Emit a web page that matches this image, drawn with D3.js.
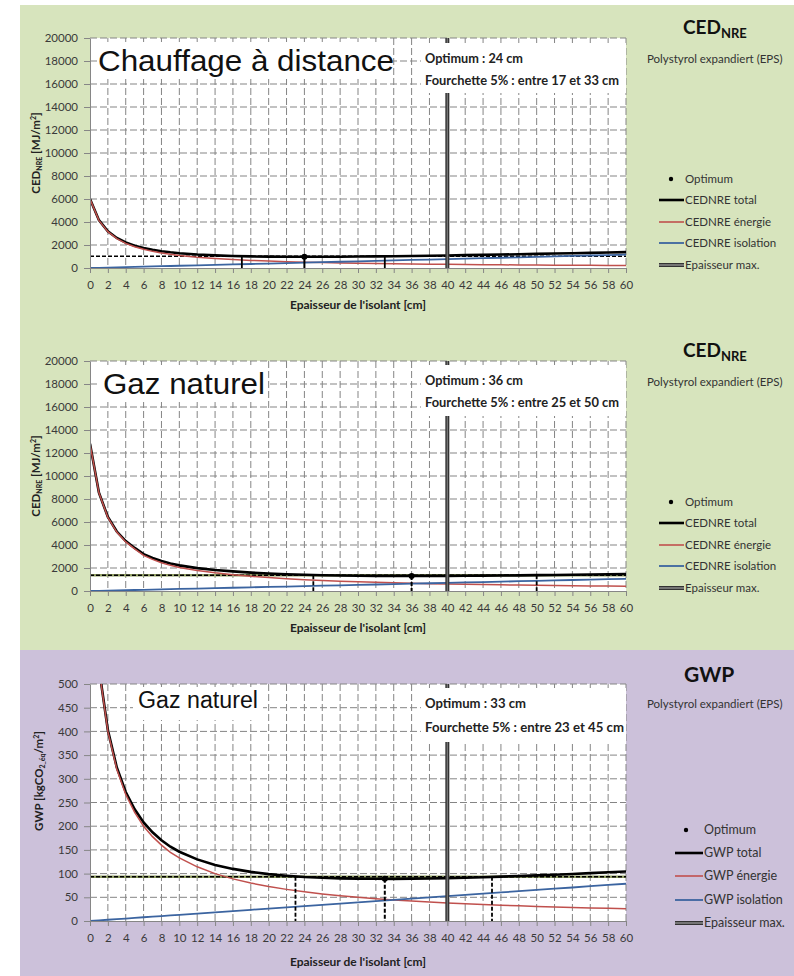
<!DOCTYPE html>
<html>
<head>
<meta charset="utf-8">
<script src="https://cdn.jsdelivr.net/npm/d3@7/dist/d3.min.js"></script>
<style>
  body { margin: 0; background: #fff; }
  svg { display: block; }
  text { font-family: Lato, "Open Sans", "Noto Sans", sans-serif; }
</style>
</head>
<body>
<svg id="chart" width="794" height="976"></svg>
<script>
// Insulation thickness [cm]
const thickness = [0,1,2,3,4,5,6,7,8,9,10,12,14,16,18,20,22,24,26,28,30,32,34,36,38,40,42,44,46,48,50,52,54,56,58,60];
const xTickValues = [0,2,4,6,8,10,12,14,16,18,20,22,24,26,28,30,32,34,36,38,40,42,44,46,48,50,52,54,56,58,60];
const cedTickValues = [0,2000,4000,6000,8000,10000,12000,14000,16000,18000,20000];
const gwpTickValues = [0,50,100,150,200,250,300,350,400,450,500];

// CED NRE, district heating [MJ/m2]
const distEnergie   = [6000,4143,3161,2556,2145,1848,1623,1447,1305,1189,1092,938,822,732,660,600,551,509,473,441,414,390,368,349,332,316,302,288,277,266,255,246,237,229,222,214];
const distIsolation = [0,19,39,58,78,97,116,136,155,175,194,233,272,310,349,388,427,466,504,543,582,621,660,698,737,776,815,854,892,931,970,1009,1048,1086,1125,1164];
const distTotal     = [6000,4162,3200,2614,2223,1945,1739,1583,1460,1364,1286,1171,1094,1042,1009,988,978,975,977,984,996,1011,1028,1047,1069,1092,1117,1142,1169,1197,1225,1255,1285,1315,1347,1378];

// CED NRE, natural gas [MJ/m2]
const gazEnergie   = [12800,8533,6400,5120,4267,3657,3100,2750,2460,2230,2050,1780,1580,1422,1280,1164,1067,985,914,853,800,753,711,674,640,610,582,557,533,512,492,474,457,441,427,413];
const gazIsolation = [0,18,35,53,71,89,106,124,142,159,177,212,248,283,319,354,389,425,460,496,531,566,602,637,673,708,743,779,814,850,885,920,956,991,1027,1062];
const gazTotal     = [12800,8551,6435,5173,4338,3746,3206,2874,2602,2389,2227,1992,1828,1705,1599,1518,1456,1410,1374,1349,1331,1319,1313,1311,1313,1318,1325,1336,1347,1362,1377,1394,1413,1432,1454,1475];

// GWP, natural gas [kgCO2-eq/m2]
const gwpEnergie   = [800,533,400,320,267,229,200,178,160,145,133,114.3,100,88.9,80,72.7,66.7,61.5,57.1,53.3,50,47.1,44.4,42.1,40,38.1,36.4,34.8,33.3,32,30.8,29.6,28.6,27.6,26.7,25.8];
const gwpIsolation = [0,1.3,2.6,3.9,5.2,6.6,7.9,9.2,10.5,11.8,13.1,15.7,18.3,21,23.6,26.2,28.8,31.4,34.1,36.7,39.3,41.9,44.5,47.2,49.8,52.4,55,57.6,60.3,62.9,65.5,68.1,70.7,73.4,76,78.6];
const gwpTotal     = [800,534.3,402.6,323.9,272.2,235.6,207.9,187.2,170.5,156.8,146.1,130,118.3,109.9,103.6,98.9,95.5,92.9,91.2,90,89.3,89,88.9,89.3,89.8,90.5,91.4,92.4,93.6,94.9,96.3,97.7,99.3,101,102.7,104.4];

// Optimum, 5 % band and maximum thickness per panel
const optimumThickness = [24, 36, 33];
const optimumValue     = [975, 1311, 89.0];
const bandLow          = [17, 25, 23];
const bandHigh         = [33, 50, 45];
const bandThreshold    = [1024, 1377, 93.4];
const maxThickness     = 40;

const svg = d3.select("#chart");

// Backgrounds
svg.append("rect").attr("x", 20).attr("y", 5).attr("width", 774).attr("height", 645).attr("fill", "#d7e4bd");
svg.append("rect").attr("x", 20).attr("y", 650).attr("width", 774).attr("height", 326).attr("fill", "#ccc1da");

const C_TOTAL = "#000000", C_ENER = "#c0504d", C_ISOL = "#3b64a0";
const GRID = "#858585", AXIS = "#868686", LABEL = "#3a3a3a";

const panels = [
  {
    top: 38, bottom: 268, domain: [0, 20000], ticks: cedTickValues,
    energie: distEnergie, isolation: distIsolation, total: distTotal, idx: 0,
    title: "Chauffage à distance", titleSize: 29, titleX: 98, titleBase: 71, titleLen: 296,
    titleBox: [97, 392, 42, 79],
    infoBox: [421, 626, 43, 93], infoBase: [63, 85], infoLen: [98, 194],
    info: ["Optimum : 24 cm", "Fourchette 5% : entre 17 et 33 cm"],
    sideTitle: "CED", sideSub: "NRE", sideSize: 19, sideX: 683, sideBase: 34, polyBase: 63,
    legend: { dotX: 671, x0: 659, x1: 684, textX: 685, rows: [180, 201, 223, 244, 266], size: 11.5 },
    names: ["CEDNRE total", "CEDNRE énergie", "CEDNRE isolation"],
    yTitle: "ced", yTitleX: 40, yTitleY: 153, xTitleBase: 309, threshStyle: "black"
  },
  {
    top: 361, bottom: 591, domain: [0, 20000], ticks: cedTickValues,
    energie: gazEnergie, isolation: gazIsolation, total: gazTotal, idx: 1,
    title: "Gaz naturel", titleSize: 29, titleX: 103, titleBase: 394, titleLen: 162,
    titleBox: [97, 267, 365, 402],
    infoBox: [421, 626, 365, 416], infoBase: [385, 407], infoLen: [98, 194],
    info: ["Optimum : 36 cm", "Fourchette 5% : entre 25 et 50 cm"],
    sideTitle: "CED", sideSub: "NRE", sideSize: 19, sideX: 683, sideBase: 357, polyBase: 386,
    legend: { dotX: 671, x0: 659, x1: 684, textX: 685, rows: [503, 524, 546, 567, 589], size: 11.5 },
    names: ["CEDNRE total", "CEDNRE énergie", "CEDNRE isolation"],
    yTitle: "ced", yTitleX: 40, yTitleY: 476, xTitleBase: 632, threshStyle: "olive"
  },
  {
    top: 684, bottom: 921, domain: [0, 500], ticks: gwpTickValues,
    energie: gwpEnergie, isolation: gwpIsolation, total: gwpTotal, idx: 2,
    title: "Gaz naturel", titleSize: 23.5, titleX: 138, titleBase: 708, titleLen: 120,
    titleBox: [133, 263, 687, 720],
    infoBox: [421, 626, 688, 742], infoBase: [708, 732], infoLen: [101, 199],
    info: ["Optimum : 33 cm", "Fourchette 5% : entre 23 et 45 cm"],
    sideTitle: "GWP", sideSub: "", sideSize: 21, sideX: 684, sideBase: 682, polyBase: 708,
    legend: { dotX: 686, x0: 675, x1: 703, textX: 704, rows: [831, 854, 877, 901, 924], size: 12.5 },
    names: ["GWP total", "GWP énergie", "GWP isolation"],
    yTitle: "gwp", yTitleX: 43, yTitleY: 781, xTitleBase: 966, threshStyle: "olive"
  }
];

const LEFT = 90, RIGHT = 626;

panels.forEach((p, pi) => {
  const x = d3.scaleLinear().domain([0, 60]).range([LEFT, RIGHT]);
  const y = d3.scaleLinear().domain(p.domain).range([p.bottom, p.top]);
  const g = svg.append("g");

  const clipId = "clip" + pi;
  svg.append("clipPath").attr("id", clipId)
    .append("rect").attr("x", LEFT).attr("y", p.top).attr("width", RIGHT - LEFT).attr("height", p.bottom - p.top);

  // plot area
  g.append("rect").attr("x", LEFT).attr("y", p.top).attr("width", RIGHT - LEFT).attr("height", p.bottom - p.top).attr("fill", "#fff");

  // dashed grid
  g.append("g").selectAll("line").data(p.ticks.slice(1)).join("line")
    .attr("x1", LEFT).attr("x2", RIGHT).attr("y1", d => y(d)).attr("y2", d => y(d))
    .attr("stroke", GRID).attr("stroke-width", 1).attr("stroke-dasharray", "7,3");
  g.append("g").selectAll("line").data(xTickValues.slice(1)).join("line")
    .attr("x1", d => x(d)).attr("x2", d => x(d)).attr("y1", p.top).attr("y2", p.bottom)
    .attr("stroke", GRID).attr("stroke-width", 1).attr("stroke-dasharray", "7,3");

  const plot = g.append("g").attr("clip-path", `url(#${clipId})`);
  const i = p.idx;

  // 5 % threshold line
  if (p.threshStyle === "olive") {
    plot.append("line").attr("x1", x(0)).attr("x2", x(60)).attr("y1", y(bandThreshold[i])).attr("y2", y(bandThreshold[i]))
      .attr("stroke", "#8f9d62").attr("stroke-width", 2.5);
  }
  plot.append("line").attr("x1", x(0)).attr("x2", x(60)).attr("y1", y(bandThreshold[i])).attr("y2", y(bandThreshold[i]))
    .attr("stroke", "#000").attr("stroke-width", 1.5).attr("stroke-dasharray", "4,2");

  // curves
  const line = data => d3.line().x((d, k) => x(thickness[k])).y(d => y(d))(data);
  plot.append("path").attr("d", line(p.total)).attr("fill", "none").attr("stroke", C_TOTAL).attr("stroke-width", 2.6);
  plot.append("path").attr("d", line(p.energie)).attr("fill", "none").attr("stroke", C_ENER).attr("stroke-width", 1.5);
  plot.append("path").attr("d", line(p.isolation)).attr("fill", "none").attr("stroke", C_ISOL).attr("stroke-width", 1.8);

  // band limits and optimum drop lines
  [bandLow[i], bandHigh[i]].forEach(v => {
    plot.append("line").attr("x1", x(v)).attr("x2", x(v)).attr("y1", y(bandThreshold[i])).attr("y2", y(0))
      .attr("stroke", "#000").attr("stroke-width", 1.8).attr("stroke-dasharray", pi === 0 ? null : "4,2");
  });
  plot.append("line").attr("x1", x(optimumThickness[i])).attr("x2", x(optimumThickness[i]))
    .attr("y1", y(optimumValue[i])).attr("y2", y(0))
    .attr("stroke", "#000").attr("stroke-width", 2).attr("stroke-dasharray", pi === 0 ? null : "4,2");
  plot.append("circle").attr("cx", x(optimumThickness[i])).attr("cy", y(optimumValue[i])).attr("r", 3).attr("fill", "#000");

  // maximum thickness marker
  plot.append("line").attr("x1", x(maxThickness)).attr("x2", x(maxThickness)).attr("y1", y(p.domain[1])).attr("y2", y(0))
    .attr("stroke", "#333").attr("stroke-width", 4);
  plot.append("line").attr("x1", x(maxThickness)).attr("x2", x(maxThickness)).attr("y1", y(p.domain[1])).attr("y2", y(0))
    .attr("stroke", "#7a7a7a").attr("stroke-width", 1.2);

  // axes
  const ax = g.append("g").attr("transform", `translate(0,${p.bottom})`)
    .call(d3.axisBottom(x).tickValues(xTickValues).tickSize(5).tickPadding(8).tickSizeOuter(0));
  const ay = g.append("g").attr("transform", `translate(${LEFT},0)`)
    .call(d3.axisLeft(y).tickValues(p.ticks).tickFormat(d3.format("d")).tickSize(6).tickPadding(6).tickSizeOuter(0));
  [ax, ay].forEach(a => {
    a.select(".domain").attr("stroke", AXIS);
    a.selectAll(".tick line").attr("stroke", AXIS);
    a.selectAll(".tick text").attr("fill", LABEL).attr("font-size", 11.5).style("font-family", "Lato, sans-serif");
  });

  // text boxes inside the plot
  const tb = p.titleBox;
  g.append("rect").attr("x", tb[0]).attr("y", tb[2]).attr("width", tb[1] - tb[0]).attr("height", tb[3] - tb[2]).attr("fill", "#fff");
  g.append("text").attr("x", p.titleX).attr("y", p.titleBase).text(p.title)
    .attr("font-size", p.titleSize).attr("textLength", p.titleLen).attr("lengthAdjust", "spacingAndGlyphs")
    .style("font-family", "'Liberation Sans', Arial, sans-serif").attr("fill", "#111");

  const ib = p.infoBox;
  g.append("rect").attr("x", ib[0]).attr("y", ib[2]).attr("width", ib[1] - ib[0]).attr("height", ib[3] - ib[2]).attr("fill", "#fff");
  p.info.forEach((t, k) => {
    g.append("text").attr("x", 425).attr("y", p.infoBase[k]).text(t)
      .attr("font-size", 12.5).attr("font-weight", "bold").attr("fill", "#222")
      .attr("textLength", p.infoLen[k]).attr("lengthAdjust", "spacingAndGlyphs");
  });

  // axis titles
  const yt = g.append("text").attr("transform", `translate(${p.yTitleX},${p.yTitleY}) rotate(-90)`)
    .attr("text-anchor", "middle").attr("font-size", 11.5).attr("font-weight", "bold").attr("fill", "#222");
  if (p.yTitle === "ced") {
    yt.append("tspan").text("CED");
    yt.append("tspan").text("NRE").attr("font-size", 7).attr("dy", 2);
    yt.append("tspan").text(" [MJ/m").attr("dy", -2);
    yt.append("tspan").text("2").attr("font-size", 7).attr("dy", -4);
    yt.append("tspan").text("]").attr("dy", 4);
  } else {
    yt.append("tspan").text("GWP [kgCO");
    yt.append("tspan").text("2_éq").attr("font-size", 7).attr("dy", 2);
    yt.append("tspan").text("/m").attr("dy", -2);
    yt.append("tspan").text("2").attr("font-size", 7).attr("dy", -4);
    yt.append("tspan").text("]").attr("dy", 4);
  }
  g.append("text").attr("x", (LEFT + RIGHT) / 2).attr("y", p.xTitleBase).attr("text-anchor", "middle")
    .attr("font-size", 12).attr("font-weight", "bold").attr("fill", "#222").text("Epaisseur de l'isolant [cm]");

  // side title and material name
  const st = g.append("text").attr("x", p.sideX).attr("y", p.sideBase).attr("font-weight", "bold").attr("fill", "#111");
  st.append("tspan").text(p.sideTitle).attr("font-size", p.sideSize);
  if (p.sideSub) st.append("tspan").text(p.sideSub).attr("font-size", 13).attr("dy", 4);
  g.append("text").attr("x", 647).attr("y", p.polyBase).attr("font-size", 11.5).attr("fill", "#333")
    .text("Polystyrol expandiert (EPS)");

  // legend
  const L = p.legend;
  g.append("circle").attr("cx", L.dotX).attr("cy", L.rows[0] - 1).attr("r", 2.2).attr("fill", "#000");
  const legItems = [
    { color: C_TOTAL, w: 2.6 },
    { color: C_ENER, w: 1.6 },
    { color: C_ISOL, w: 1.8 }
  ];
  legItems.forEach((it, k) => {
    g.append("line").attr("x1", L.x0).attr("x2", L.x1).attr("y1", L.rows[k + 1] - 1).attr("y2", L.rows[k + 1] - 1)
      .attr("stroke", it.color).attr("stroke-width", it.w);
  });
  g.append("line").attr("x1", L.x0).attr("x2", L.x1).attr("y1", L.rows[4] - 1).attr("y2", L.rows[4] - 1)
    .attr("stroke", "#333").attr("stroke-width", 4);
  g.append("line").attr("x1", L.x0).attr("x2", L.x1).attr("y1", L.rows[4] - 1).attr("y2", L.rows[4] - 1)
    .attr("stroke", "#9a9a9a").attr("stroke-width", 1.3);
  const legNames = ["Optimum"].concat(p.names).concat(["Epaisseur max."]);
  legNames.forEach((t, k) => {
    g.append("text").attr("x", L.textX).attr("y", L.rows[k] + 3)
      .attr("font-size", L.size).attr("fill", "#333").text(t);
  });
});
</script>
</body>
</html>
